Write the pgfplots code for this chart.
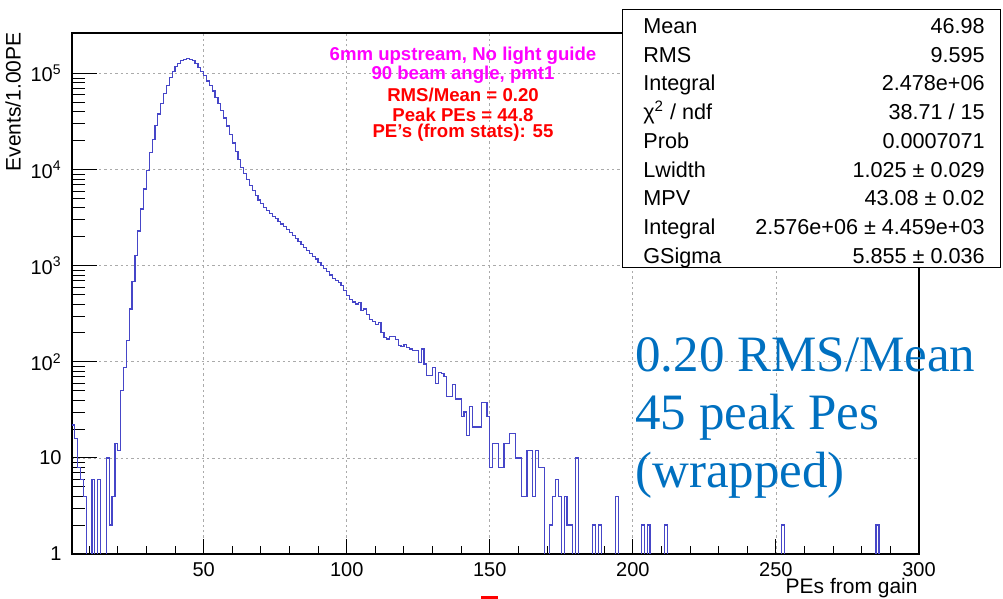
\documentclass[border=0pt]{standalone}
\usepackage{fontspec}
\setmainfont{Liberation Sans}
\newfontfamily\pptfont{Liberation Serif}
\usepackage{pgfplots}
\pgfplotsset{compat=1.18}
\definecolor{histblue}{RGB}{70,70,200}
\definecolor{pptblue}{RGB}{0,112,192}
\definecolor{gridgray}{RGB}{170,170,170}
\definecolor{labmag}{RGB}{255,0,255}

\begin{document}
\begin{tikzpicture}
\path[use as bounding box] (0,0) rectangle (501.5pt,299.5pt);
\begin{axis}[
  at={(36pt,22.5pt)}, anchor=south west,
  scale only axis, width=423.5pt, height=260.5pt,
  xmin=4, xmax=300, ymode=log, ymin=1, ymax=2.65e5,
  axis line style={line width=0.6pt},
  tick style={black, line width=0.5pt},
  xtick={50,100,...,300}, xticklabels={50,100,150,200,250,300},
  minor xtick={10,20,...,290},
  ytick={1,10,100,1000,10000,100000},
  yticklabels={1,10,10\textsuperscript{2},10\textsuperscript{3},10\textsuperscript{4},10\textsuperscript{5}},
  tick pos=left,
  xtick style={/pgfplots/major tick length=7.5pt, /pgfplots/minor tick length=4pt},
  ytick style={/pgfplots/major tick length=12.5pt, /pgfplots/minor tick length=6.5pt},
  ticklabel style={font=\fontsize{10}{12}\selectfont},
  xticklabel style={inner sep=0pt, yshift=-4pt},
  yticklabel style={inner sep=0pt, xshift=-5pt},
  grid=major,
  major grid style={gridgray, line width=0.4pt, dash pattern=on 1.2pt off 1.5pt},
]
% PEs per 1 PE bin (left edge, count); empty bins set to 0.1 so they fall below the axis
\addplot[const plot, histblue, line width=0.6pt] coordinates {
(4,22) (5,16) (6,8) (7,6) (8,4) (9,0.1) (11,6) (12,0.1) (13,6) (14,0.1)
(16,10) (17,2) (18,4) (19,14) (20,12) (21,50) (22,88) (23,168) (24,355) (25,680)
(26,1270) (27,2300) (28,3900) (29,6300) (30,9800) (31,15000) (32,20700) (33,29000) (34,38000) (35,48500)
(36,62000) (37,76000) (38,92000) (39,106000) (40,118000) (41,128000) (42,136000) (43,141000) (44,143000) (45,141000)
(46,136000) (47,128000) (48,116000) (49,105000) (50,95000) (51,84000) (52,75000) (53,66000) (54,57000) (55,48500)
(56,41000) (57,34500) (58,28500) (59,23300) (60,19000) (61,15600) (62,12800) (63,10600) (64,9100) (65,7850)
(66,6840) (67,6030) (68,5370) (69,4840) (70,4420) (71,4050) (72,3760) (73,3510) (74,3290) (75,3090)
(76,2900) (77,2720) (78,2540) (79,2370) (80,2210) (81,2060) (82,1910) (83,1780) (84,1660) (85,1550)
(86,1450) (87,1350) (88,1260) (89,1175) (90,1080) (91,1010) (92,945) (93,870) (94,800) (95,740)
(96,698) (97,671) (98,620) (99,550) (100,487) (101,450) (102,420) (103,400) (104,416) (105,341)
(106,355) (107,314) (108,275) (109,262) (110,247) (111,257) (112,203) (113,180) (114,173) (115,184)
(116,184) (117,170) (118,147) (119,145) (120,153) (121,141) (122,136) (123,131) (124,131) (125,99)
(126,136) (127,95) (128,72) (129,72) (130,87) (131,59) (132,78) (133,75) (134,70) (135,44)
(136,44) (137,58) (138,41) (139,41) (140,27) (141,30) (142,17) (143,34) (144,21) (145,21)
(146,21) (147,38) (148,38) (149,27) (150,8) (151,14) (152,14) (153,8) (154,8) (155,14)
(156,14) (157,18) (158,18) (159,10) (160,10) (161,4) (162,4) (163,12) (164,12) (165,4)
(166,12) (167,8) (168,8) (169,0.1) (171,2) (172,4) (173,6) (174,4) (175,0.1) (176,4)
(177,2) (178,2) (179,0.1) (180,10) (181,0.1) (186,2) (187,0.1) (188,2) (189,0.1) (194,4)
(195,0.1) (203,2) (204,0.1) (205,2) (206,0.1) (211,2) (212,0.1) (252,2) (253,0.1) (285,2)
(286,0.1) (300,0.1)
};
\end{axis}

% axis titles
\node[rotate=90, anchor=north east, inner sep=0pt, font=\fontsize{10.5}{12}\selectfont]
  at (2.5pt,283.5pt) {Events/1.00PE};
\node[anchor=base east, inner sep=0pt, font=\fontsize{10.5}{12}\selectfont]
  at (459pt,2.5pt) {PEs from gain};
\fill[red] (240.5pt,0pt) rectangle (249pt,1.3pt);

% run description
\begin{scope}[every node/.style={anchor=base, inner sep=0pt, font=\fontsize{9.3}{10}\selectfont\bfseries}]
\node[text=labmag] at (231.5pt,269.1pt) {6mm upstream, No light guide};
\node[text=labmag] at (231.5pt,259.8pt) {90 beam angle, pmt1};
\node[text=red] at (231.5pt,248.7pt) {RMS/Mean = 0.20};
\node[text=red] at (231.5pt,238.7pt) {Peak PEs = 44.8};
\node[text=red] at (231.5pt,230.8pt) {PE's (from stats): 55};
\end{scope}

% fit statistics box
\draw[fill=white, line width=0.5pt] (311pt,165.5pt) rectangle (500pt,294.5pt);
\begin{scope}[every node/.style={inner sep=0pt, font=\fontsize{10.8}{12}\selectfont}]
\node[anchor=base west] at (321.5pt,282.75pt) {Mean};
\node[anchor=base east] at (492.5pt,282.75pt) {46.98};
\node[anchor=base west] at (321.5pt,268.4pt) {RMS};
\node[anchor=base east] at (492.5pt,268.4pt) {9.595};
\node[anchor=base west] at (321.5pt,254.0pt) {Integral};
\node[anchor=base east] at (492.5pt,254.0pt) {2.478e+06};
\node[anchor=base west] at (321.5pt,239.6pt) {χ\textsuperscript{2} / ndf};
\node[anchor=base east] at (492.5pt,239.6pt) {38.71 / 15};
\node[anchor=base west] at (321.5pt,225.25pt) {Prob};
\node[anchor=base east] at (492.5pt,225.25pt) {0.0007071};
\node[anchor=base west] at (321.5pt,210.9pt) {Lwidth};
\node[anchor=base east] at (492.5pt,210.9pt) {1.025 ± 0.029};
\node[anchor=base west] at (321.5pt,196.5pt) {MPV};
\node[anchor=base east] at (492.5pt,196.5pt) {43.08 ± 0.02};
\node[anchor=base west] at (321.5pt,182.1pt) {Integral};
\node[anchor=base east] at (492.5pt,182.1pt) {2.576e+06 ± 4.459e+03};
\node[anchor=base west] at (321.5pt,167.75pt) {GSigma};
\node[anchor=base east] at (492.5pt,167.75pt) {5.855 ± 0.036};
\end{scope}

% slide annotation
\begin{scope}[every node/.style={anchor=base west, inner sep=0pt, text=pptblue, font=\pptfont\fontsize{25.5}{29}\selectfont}]
\node at (317.5pt,113.5pt) {0.20 RMS/Mean};
\node at (317.5pt,84.5pt) {45 peak Pes};
\node at (317.5pt,55.5pt) {(wrapped)};
\end{scope}
\end{tikzpicture}
\end{document}
